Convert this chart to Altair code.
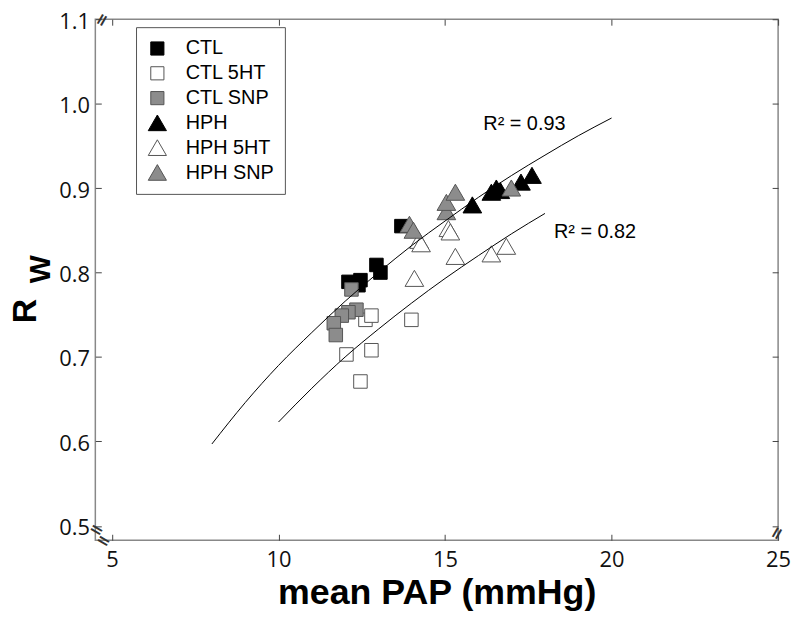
import altair as alt
import pandas as pd

# ---- data ----
groups = ["CTL", "CTL 5HT", "CTL SNP", "HPH", "HPH 5HT", "HPH SNP"]

ctl_x = [12.10, 12.46, 12.40, 12.94, 13.06, 13.69]
ctl_y = [0.789, 0.791, 0.785, 0.809, 0.800, 0.855]

ctl5ht_x = [12.61, 12.79, 13.99, 12.04, 12.79, 12.46]
ctl5ht_y = [0.744, 0.749, 0.744, 0.703, 0.708, 0.671]

ctlsnp_x = [12.19, 12.34, 12.10, 11.90, 11.66, 11.72]
ctlsnp_y = [0.780, 0.756, 0.753, 0.749, 0.740, 0.726]

hph_x = [15.82, 16.39, 16.54, 16.66, 17.28, 17.61]
hph_y = [0.880, 0.895, 0.900, 0.897, 0.907, 0.915]

hph5ht_x = [14.08, 14.22, 14.28, 15.10, 15.16, 15.31, 16.39, 16.84]
hph5ht_y = [0.793, 0.838, 0.834, 0.852, 0.848, 0.819, 0.822, 0.831]

hphsnp_x = [13.93, 14.05, 15.04, 15.04, 15.31, 16.99]
hphsnp_y = [0.857, 0.850, 0.872, 0.883, 0.895, 0.900]

fit1_x = [8, 9, 10, 11, 12, 13, 14, 15, 16, 17, 18, 19, 20]
fit1_y = [0.597, 0.646, 0.690, 0.729, 0.766, 0.800, 0.832, 0.861, 0.889, 0.915, 0.939, 0.962, 0.983]

fit2_x = [10, 11, 12, 13, 14, 15, 16, 17, 18]
fit2_y = [0.623, 0.663, 0.700, 0.733, 0.764, 0.793, 0.820, 0.846, 0.870]

r2_text = ["R\u00b2 = 0.93", "R\u00b2 = 0.82"]
r2_x = [16.15, 18.27]
r2_y = [0.976, 0.848]

x_ticks = [5, 10, 15, 20, 25]
y_ticks = [0.5, 0.6, 0.7, 0.8, 0.9, 1.0, 1.1]

# ---- tables ----
series = [ctl_x, ctl5ht_x, ctlsnp_x, hph_x, hph5ht_x, hphsnp_x]
series_y = [ctl_y, ctl5ht_y, ctlsnp_y, hph_y, hph5ht_y, hphsnp_y]
rows = []
for g, xs_, ys_ in zip(groups, series, series_y):
    for a, b in zip(xs_, ys_):
        rows.append({"group": g, "pap": a, "rw": b})
pts = pd.DataFrame(rows)

fits = pd.concat([
    pd.DataFrame({"fit": "a", "pap": fit1_x, "rw": fit1_y}),
    pd.DataFrame({"fit": "b", "pap": fit2_x, "rw": fit2_y}),
])
r2 = pd.DataFrame({"t": r2_text, "pap": r2_x, "rw": r2_y})

xs = alt.Scale(domain=[4.5, 25], nice=False, zero=False)
ys = alt.Scale(domain=[0.483, 1.1], nice=False, zero=False)

# unit-box symbol paths (scaled by the mark size)
SQ = "M-0.68,-0.68L0.68,-0.68L0.68,0.68L-0.68,0.68Z"
TRI = "M0,-0.82L0.94,0.8L-0.94,0.8Z"

points = alt.Chart(pts).mark_point(filled=True, opacity=1, strokeWidth=1, size=400).encode(
    x=alt.X("pap:Q", scale=xs, axis=alt.Axis(
        orient="bottom", values=x_ticks, offset=-6, labelPadding=9,
        title="mean PAP (mmHg)", titleFont="Liberation Sans", titleFontSize=36,
        titleFontWeight="bold", titlePadding=6, titleColor="#000")),
    y=alt.Y("rw:Q", scale=ys, axis=alt.Axis(
        orient="left", values=y_ticks, format=".1f", offset=-6, labelPadding=6,
        labelOffset=2, title=None)),
    shape=alt.Shape("group:N", scale=alt.Scale(
        domain=groups, range=[SQ, SQ, SQ, TRI, TRI, TRI]),
        legend=alt.Legend(
            orient="none", legendX=41, legendY=8, title=None, padding=11,
            strokeColor="#555555", fillColor="#ffffff",
            labelFont="Liberation Sans", labelFontSize=20, labelColor="#000",
            labelOffset=18, rowPadding=4, symbolSize=380, symbolStrokeWidth=1)),
    fill=alt.Fill("group:N", scale=alt.Scale(
        domain=groups,
        range=["#000000", "#ffffff", "#8c8c8c", "#000000", "#ffffff", "#8c8c8c"])),
    stroke=alt.Stroke("group:N", scale=alt.Scale(
        domain=groups,
        range=["#000000", "#555555", "#555555", "#000000", "#555555", "#555555"])),
    order=alt.Order("idx:Q"),
).transform_window(idx="row_number()")

curves = alt.Chart(fits).mark_line(color="#000", strokeWidth=1, interpolate="monotone").encode(
    x=alt.X("pap:Q", scale=xs, axis=alt.Axis(
        orient="top", values=x_ticks, offset=-6, labels=False, title=None)),
    y=alt.Y("rw:Q", scale=ys, axis=alt.Axis(
        orient="right", values=y_ticks, offset=-6, labels=False, title=None)),
    detail="fit:N",
)

r2_labels = alt.Chart(r2).mark_text(
    align="left", baseline="middle", font="Liberation Sans", fontSize=20, color="#000"
).encode(
    x=alt.X("pap:Q", scale=xs, axis=None),
    y=alt.Y("rw:Q", scale=ys, axis=None),
    text="t:N",
)

# y-axis title "R" with subscript "W"
r_main = alt.Chart(pd.DataFrame({"t": ["R"]})).mark_text(
    font="Liberation Sans", fontSize=34, fontWeight="bold", angle=270,
    align="center", baseline="middle", color="#000"
).encode(x=alt.value(-70), y=alt.value(294), text="t:N")
r_sub = alt.Chart(pd.DataFrame({"t": ["W"]})).mark_text(
    font="Liberation Sans", fontSize=30, fontWeight="bold", angle=270,
    align="center", baseline="middle", color="#000"
).encode(x=alt.value(-55), y=alt.value(252), text="t:N")

# axis-break marks
def brk(px, py, ang):
    return alt.Chart(pd.DataFrame({"t": ["="]})).mark_text(
        font="DejaVu Sans", fontSize=17, fontWeight="bold", angle=ang,
        align="center", baseline="middle", color="#333"
    ).encode(x=alt.value(px), y=alt.value(py), text="t:N")

breaks = [brk(7, 1, 300), brk(1, 515, 30), brk(8, 526, 30), brk(687, 518, 300)]

chart = alt.layer(points, curves, r2_labels, r_main, r_sub, *breaks).resolve_axis(
    x="independent", y="independent"
).properties(
    width=688, height=525,
    autosize=alt.AutoSizeParams(type="none"),
    padding={"left": 88, "top": 9, "right": 14, "bottom": 70},
).configure_view(
    stroke="#888888", strokeWidth=1.5
).configure_axis(
    domain=False, grid=False, tickSize=6, tickColor="#444444", tickWidth=1,
    labelFont="Open Sans", labelFontSize=22, labelColor="#111111", labelFlush=False,
)

chart.save("out.html", embed_options={"renderer": "svg", "actions": False})
